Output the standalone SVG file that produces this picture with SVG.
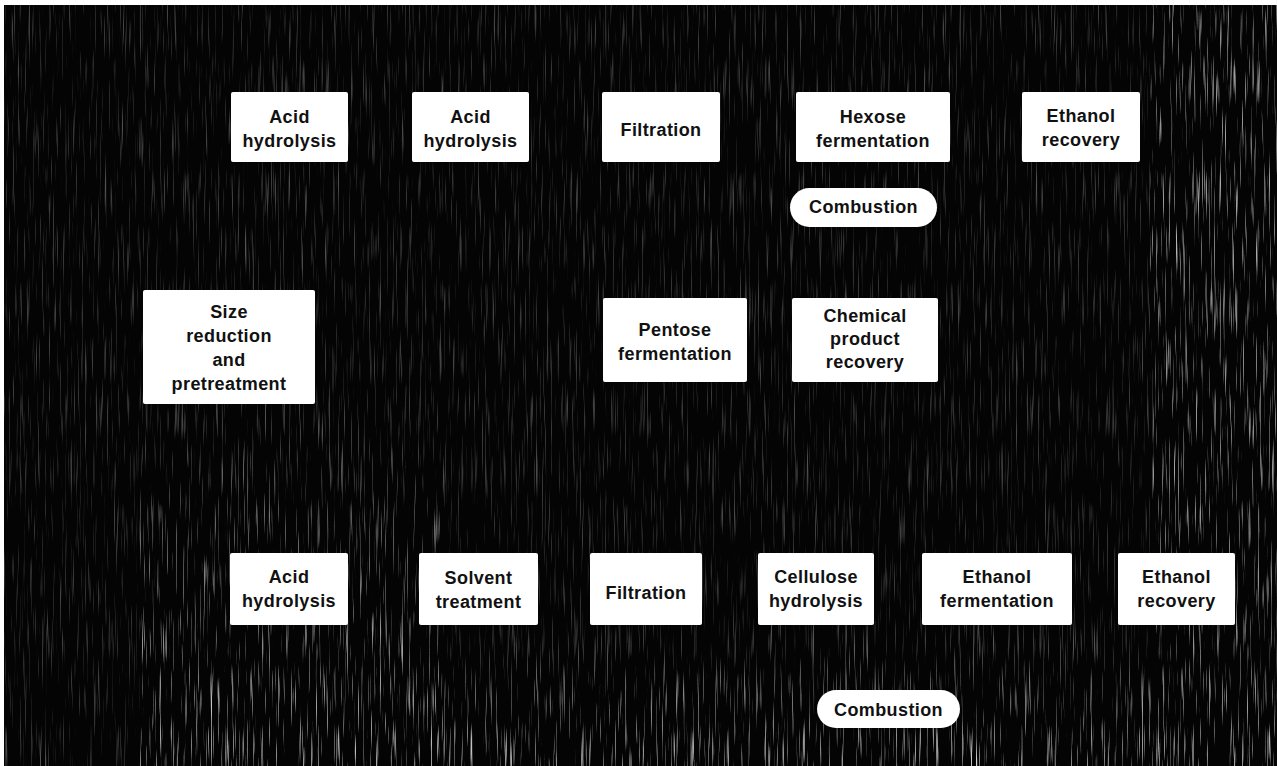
<svg xmlns="http://www.w3.org/2000/svg" width="1277" height="766" viewBox="0 0 1277 766">
  <style>
    .box { fill: #ffffff; }
    .lbl { font-family: "Liberation Sans", Arial, Helvetica, sans-serif; font-weight: bold; font-size: 18px; letter-spacing: 0.4px; fill: #111111; text-anchor: middle; }
  </style>
  <defs>
    <filter id="grain" x="0" y="0" width="100%" height="100%" filterUnits="userSpaceOnUse">
      <feTurbulence type="fractalNoise" baseFrequency="0.55 0.018" numOctaves="2" seed="7"/>
      <feColorMatrix type="matrix" values="0 0 0 0 0.85  0 0 0 0 0.85  0 0 0 0 0.85  3.2 0 0 0 -1.85"/>
    </filter>
    <linearGradient id="fadeV" x1="0" y1="0" x2="0" y2="1">
      <stop offset="0" stop-color="#fff" stop-opacity="0"/>
      <stop offset="1" stop-color="#fff" stop-opacity="1"/>
    </linearGradient>
    <mask id="heavy">
      <rect x="140" y="380" width="300" height="386" fill="url(#fadeV)"/>
      <rect x="1150" y="0" width="127" height="766" fill="#fff" opacity="0.7"/>
      <rect x="420" y="620" width="857" height="146" fill="url(#fadeV)"/>
    </mask>
  </defs>

  <!-- background -->
  <rect x="0" y="0" width="1277" height="766" fill="#ffffff"/>
  <rect x="4" y="5" width="1273" height="761" fill="#040404"/>
  <rect x="4" y="5" width="1273" height="761" filter="url(#grain)" opacity="0.35"/>
  <rect x="4" y="5" width="1273" height="761" filter="url(#grain)" opacity="0.9" mask="url(#heavy)"/>

  <g id="connectors"></g>

  <!-- top row -->
  <g id="acid-hydrolysis-1">
    <rect class="box" x="231" y="92" width="117" height="70" rx="2"/>
    <text class="lbl" x="289.5" y="123">Acid</text>
    <text class="lbl" x="289.5" y="147">hydrolysis</text>
  </g>
  <g id="acid-hydrolysis-2">
    <rect class="box" x="412" y="92" width="117" height="70" rx="2"/>
    <text class="lbl" x="470.5" y="123">Acid</text>
    <text class="lbl" x="470.5" y="147">hydrolysis</text>
  </g>
  <g id="filtration-1">
    <rect class="box" x="602" y="92" width="118" height="70" rx="2"/>
    <text class="lbl" x="661" y="136">Filtration</text>
  </g>
  <g id="hexose-fermentation">
    <rect class="box" x="796" y="92" width="154" height="70" rx="2"/>
    <text class="lbl" x="873" y="123">Hexose</text>
    <text class="lbl" x="873" y="147">fermentation</text>
  </g>
  <g id="ethanol-recovery-1">
    <rect class="box" x="1022" y="92" width="118" height="70" rx="2"/>
    <text class="lbl" x="1081" y="122">Ethanol</text>
    <text class="lbl" x="1081" y="146">recovery</text>
  </g>
  <g id="combustion-1">
    <rect class="box" x="790" y="188" width="147" height="39" rx="19.5"/>
    <text class="lbl" x="863.5" y="213">Combustion</text>
  </g>

  <!-- middle row -->
  <g id="size-reduction">
    <rect class="box" x="143" y="290" width="172" height="114" rx="2"/>
    <text class="lbl" x="229" y="318">Size</text>
    <text class="lbl" x="229" y="342">reduction</text>
    <text class="lbl" x="229" y="366">and</text>
    <text class="lbl" x="229" y="390">pretreatment</text>
  </g>
  <g id="pentose-fermentation">
    <rect class="box" x="603" y="298" width="144" height="84" rx="2"/>
    <text class="lbl" x="675" y="336">Pentose</text>
    <text class="lbl" x="675" y="360">fermentation</text>
  </g>
  <g id="chemical-product-recovery">
    <rect class="box" x="792" y="298" width="146" height="84" rx="2"/>
    <text class="lbl" x="865" y="322">Chemical</text>
    <text class="lbl" x="865" y="345">product</text>
    <text class="lbl" x="865" y="368">recovery</text>
  </g>

  <!-- bottom row -->
  <g id="acid-hydrolysis-3">
    <rect class="box" x="230" y="553" width="118" height="72" rx="2"/>
    <text class="lbl" x="289" y="583">Acid</text>
    <text class="lbl" x="289" y="607">hydrolysis</text>
  </g>
  <g id="solvent-treatment">
    <rect class="box" x="419" y="553" width="119" height="72" rx="2"/>
    <text class="lbl" x="478.5" y="584">Solvent</text>
    <text class="lbl" x="478.5" y="608">treatment</text>
  </g>
  <g id="filtration-2">
    <rect class="box" x="590" y="553" width="112" height="72" rx="2"/>
    <text class="lbl" x="646" y="599">Filtration</text>
  </g>
  <g id="cellulose-hydrolysis">
    <rect class="box" x="758" y="553" width="116" height="72" rx="2"/>
    <text class="lbl" x="816" y="583">Cellulose</text>
    <text class="lbl" x="816" y="607">hydrolysis</text>
  </g>
  <g id="ethanol-fermentation">
    <rect class="box" x="922" y="553" width="150" height="72" rx="2"/>
    <text class="lbl" x="997" y="583">Ethanol</text>
    <text class="lbl" x="997" y="607">fermentation</text>
  </g>
  <g id="ethanol-recovery-2">
    <rect class="box" x="1118" y="553" width="117" height="72" rx="2"/>
    <text class="lbl" x="1176.5" y="583">Ethanol</text>
    <text class="lbl" x="1176.5" y="607">recovery</text>
  </g>
  <g id="combustion-2">
    <rect class="box" x="817" y="690" width="143" height="38" rx="19"/>
    <text class="lbl" x="888.5" y="716">Combustion</text>
  </g>
</svg>
